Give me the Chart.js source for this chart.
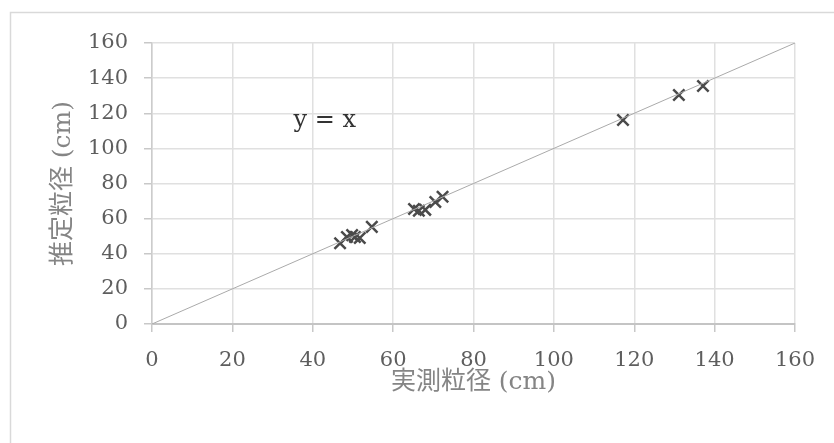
<!DOCTYPE html>
<html>
<head>
<meta charset="utf-8">
<script src="https://cdn.jsdelivr.net/npm/chart.js@4.4.1/dist/chart.umd.min.js"></script>
<style>
  html, body { margin: 0; padding: 0; background: #fff; }
  #wrap { width: 834px; height: 443px; }
</style>
</head>
<body>
<div id="wrap"><canvas id="chart" width="834" height="443"></canvas></div>
<script>
// measured vs. estimated grain size (cm)
const measured = [46.8, 48.5, 49.8, 50.5, 51.7, 54.7, 65.2, 66.4, 68, 70.5, 72.3, 117.2, 131.1, 137.1];
const estimated = [46, 49.5, 50.6, 49.5, 49, 55.3, 65.5, 64.5, 65, 69.5, 72.5, 116.2, 130.4, 135.5];
const refLine = [[0, 0], [160, 160]];
const xTicks = [0, 20, 40, 60, 80, 100, 120, 140, 160];
const yTicks = [0, 20, 40, 60, 80, 100, 120, 140, 160];
const refLabel = 'y = x';
const refLabelAt = [43, 115.6];

const serif = '"DejaVu Serif", "Liberation Serif", "Noto Sans CJK JP", serif';

const frame = {
  id: 'frame',
  beforeDraw(chart) {
    const ctx = chart.ctx;
    ctx.save();
    ctx.fillStyle = '#fff';
    ctx.fillRect(0, 0, chart.width, chart.height);
    ctx.strokeStyle = '#d9d9d9';
    ctx.lineWidth = 1.5;
    ctx.beginPath();
    ctx.moveTo(10.5, chart.height);
    ctx.lineTo(10.5, 12.5);
    ctx.lineTo(chart.width, 12.5);
    ctx.stroke();
    ctx.restore();
  },
  afterDatasetsDraw(chart) {
    const { ctx, scales } = chart;
    ctx.save();
    ctx.font = '24px ' + serif;
    ctx.fillStyle = '#333';
    ctx.textAlign = 'center';
    ctx.textBaseline = 'middle';
    ctx.fillText(refLabel, scales.x.getPixelForValue(refLabelAt[0]), scales.y.getPixelForValue(refLabelAt[1]));
    ctx.restore();
  }
};

new Chart(document.getElementById('chart'), {
  type: 'scatter',
  data: {
    datasets: [
      {
        label: 'y = x',
        type: 'line',
        data: refLine.map(p => ({ x: p[0], y: p[1] })),
        borderColor: '#aaaaaa',
        borderWidth: 1,
        pointRadius: 0,
        fill: false,
        tension: 0
      },
      {
        label: '推定粒径',
        data: measured.map((v, i) => ({ x: v, y: estimated[i] })),
        pointStyle: 'crossRot',
        pointRadius: 8,
        borderColor: '#4a4a4a',
        borderWidth: 2.5,
        backgroundColor: '#4a4a4a'
      }
    ]
  },
  options: {
    responsive: false,
    animation: false,
    layout: { padding: { left: 0, right: 39, top: 43, bottom: 0 } },
    plugins: {
      legend: { display: false },
      tooltip: { enabled: false }
    },
    scales: {
      x: {
        type: 'linear',
        min: 0,
        max: 160,
        afterBuildTicks: s => { s.ticks = xTicks.map(v => ({ value: v })); },
        afterFit: s => { s.height = 119; },
        grid: { color: '#e0e0e0', lineWidth: 1.5, tickColor: '#c8c8c8', tickLength: 8 },
        border: { color: '#c4c4c4', width: 2 },
        ticks: { font: { family: serif, size: 21 }, color: '#5e5e5e', padding: 16, maxRotation: 0 },
        title: {
          display: true,
          text: '実測粒径 (cm)',
          font: { family: serif, size: 25 },
          color: '#858585',
          padding: { top: 0, bottom: 46 }
        }
      },
      y: {
        type: 'linear',
        min: 0,
        max: 160,
        afterBuildTicks: s => { s.ticks = yTicks.map(v => ({ value: v })); },
        afterFit: s => { s.width = 152; },
        grid: { color: '#e0e0e0', lineWidth: 1.5, tickColor: '#c8c8c8', tickLength: 8 },
        border: { color: '#cccccc', width: 1.5 },
        ticks: { font: { family: serif, size: 21 }, color: '#5e5e5e', padding: 16 },
        title: {
          display: true,
          text: '推定粒径 (cm)',
          font: { family: serif, size: 25 },
          color: '#858585',
          padding: { top: 48, bottom: 0 }
        }
      }
    }
  },
  plugins: [frame]
});
</script>
</body>
</html>
